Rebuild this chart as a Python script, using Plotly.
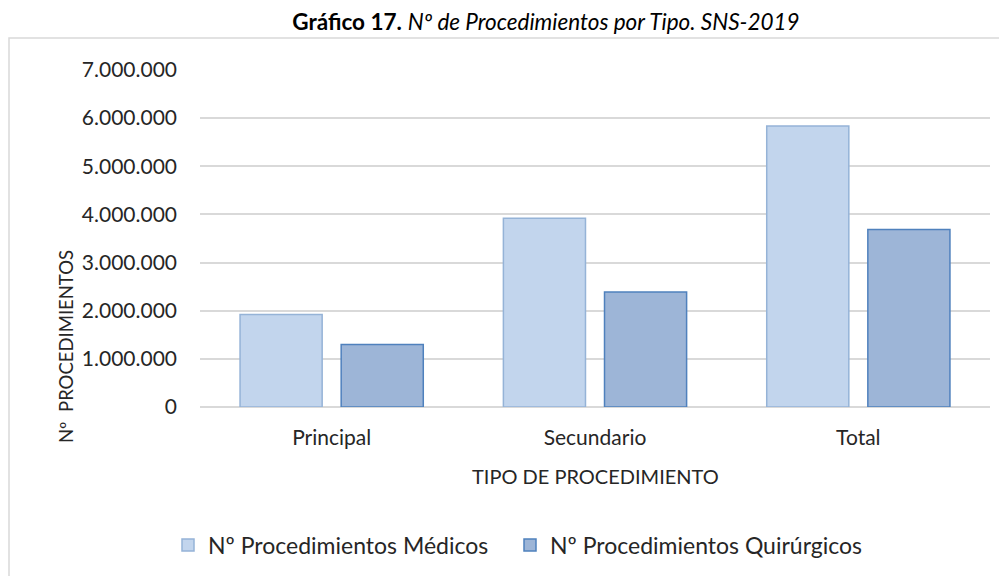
import plotly.graph_objects as go

categories = ["Principal", "Secundario", "Total"]
medicos = [1923000, 3920000, 5835000]
quirurgicos = [1300000, 2390000, 3685000]
y_ticks = [0, 1000000, 2000000, 3000000, 4000000, 5000000, 6000000, 7000000]
y_tick_labels = ["0", "1.000.000", "2.000.000", "3.000.000", "4.000.000",
                 "5.000.000", "6.000.000", "7.000.000"]

FONT = "Lato"
OFF = 8  # page body margin
W, H = 1007 - OFF, 576 - OFF
# plot area in reference pixels: x 200..990, y 70..407
L = 200 - OFF
T = 70 - OFF
R = W - (990 - OFF)
B = H - (407 - OFF)
pw, ph = W - L - R, H - T - B


def px_x(x):
    return (x - OFF - L) / pw


def px_y(y):
    return (H - B - (y - OFF)) / ph


fig = go.Figure()
fig.add_trace(go.Bar(
    x=categories, y=medicos, name="Nº Procedimientos Médicos",
    marker=dict(color="#c2d5ed", line=dict(color="#95b3d7", width=1.5)),
    legend="legend",
))
fig.add_trace(go.Bar(
    x=categories, y=quirurgicos, name="Nº Procedimientos Quirúrgicos",
    marker=dict(color="#9db5d7", line=dict(color="#4f81bd", width=1.5)),
    legend="legend2",
))

legend_common = dict(
    orientation="h", xanchor="left", yanchor="middle",
    font=dict(size=23, color="#262626"), itemwidth=30,
    bgcolor="rgba(0,0,0,0)",
)

fig.update_layout(
    width=W, height=H,
    margin=dict(l=L, r=R, t=T, b=B, autoexpand=False),
    paper_bgcolor="white", plot_bgcolor="white",
    barmode="group", bargap=0.232, bargroupgap=0.188,
    font=dict(family=FONT, color="#262626", size=21),
    title=dict(
        text="<b>Gráfico 17.</b> <i>Nº de Procedimientos por Tipo. SNS-2019</i>",
        xref="container", x=(546 - OFF) / W, xanchor="center",
        yref="container", y=1 - (22 - OFF) / H, yanchor="middle",
        font=dict(family=FONT, size=22.5, color="#000000"),
    ),
    xaxis=dict(
        showgrid=False, showline=False, ticks="",
        tickfont=dict(size=21, color="#262626"), ticklabelstandoff=16,
    ),
    yaxis=dict(
        range=[0, 7000000], tickvals=y_ticks, ticktext=y_tick_labels,
        showgrid=True, gridcolor="#d9d9d9", gridwidth=1.5,
        zeroline=True, zerolinecolor="#d9d9d9", zerolinewidth=1.5,
        showline=False, ticks="", ticklabelstandoff=22,
        tickfont=dict(size=21, color="#262626"),
    ),
    showlegend=True,
    legend=dict(x=px_x(168), y=px_y(545), **legend_common),
    legend2=dict(x=px_x(510), y=px_y(545), **legend_common),
    annotations=[
        dict(text="Nº  PROCEDIMIENTOS", xref="paper", yref="paper",
             x=px_x(66), y=px_y(347), textangle=-90, showarrow=False,
             xanchor="center", yanchor="middle",
             font=dict(size=18.5, color="#262626")),
        dict(text="TIPO DE PROCEDIMIENTO", xref="paper", yref="paper",
             x=px_x(595), y=px_y(476), showarrow=False,
             xanchor="center", yanchor="middle",
             font=dict(size=20, color="#262626")),
    ],
    shapes=[
        dict(type="rect", xref="paper", yref="paper",
             x0=px_x(9), x1=px_x(1004), y0=px_y(585), y1=px_y(38),
             line=dict(color="#d9d9d9", width=1.5), fillcolor="rgba(0,0,0,0)",
             layer="below"),
    ],
)

fig.write_html("out.html")
